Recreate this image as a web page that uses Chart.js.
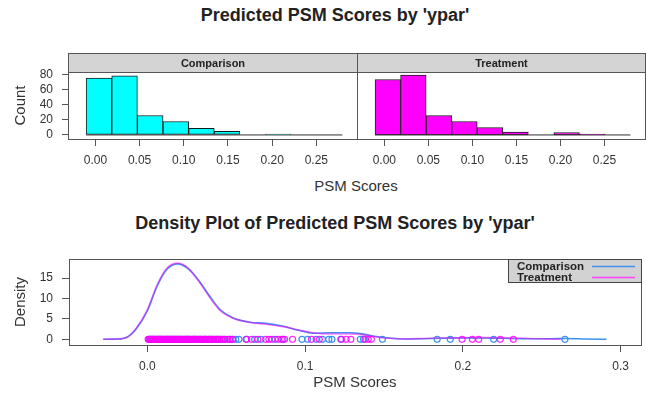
<!DOCTYPE html>
<html>
<head>
<meta charset="utf-8">
<script src="https://cdn.jsdelivr.net/npm/chart.js@4"></script>
<style>
  body { margin: 0; background: #fff; }
  #wrap { position: relative; width: 646px; height: 402px; overflow: hidden; font-family: "Liberation Sans", Arial, sans-serif; color: #222; }
  #wrap canvas { position: absolute; }
  .txt { position: absolute; white-space: nowrap; text-align: center; }
</style>
</head>
<body>
<div id="wrap">
  <div class="txt" style="left:0;width:670px;top:4px;font:bold 18px/22px 'Liberation Sans',Arial,sans-serif;">Predicted PSM Scores by 'ypar'</div>
  <canvas id="histComparison" width="360" height="130" style="left:0;top:45px"></canvas>
  <canvas id="histTreatment" width="306" height="130" style="left:340px;top:45px"></canvas>
  <div class="txt" style="left:256px;width:200px;top:177px;font:15px/18px 'Liberation Sans',Arial,sans-serif;color:#333">PSM Scores</div>
  <div class="txt" style="left:0;width:670px;top:212px;font:bold 18px/22px 'Liberation Sans',Arial,sans-serif;">Density Plot of Predicted PSM Scores by 'ypar'</div>
  <canvas id="density" width="646" height="162" style="left:0;top:240px"></canvas>
</div>
<script>
const groups = ['Comparison', 'Treatment'];

// histogram bins (centres) and counts per panel
const histCenters = [0.004, 0.033, 0.062, 0.091, 0.120, 0.149, 0.178, 0.207, 0.236, 0.265];
const histRange = [-0.0105, 0.2795];
const comparisonCounts = [76, 79, 26, 18, 9, 5, 0, 1, 0, 0];
const treatmentCounts = [74, 80, 26, 18, 10, 4, 0, 3, 1, 0];
const histTicks = [0, 0.05, 0.10, 0.15, 0.20, 0.25];
const countTicks = [0, 20, 40, 60, 80];

// density curves
const comparisonX = [-0.028, -0.02, -0.013, -0.007, 0.0, 0.006, 0.012, 0.019, 0.026, 0.033, 0.040, 0.046, 0.054, 0.065, 0.075, 0.086, 0.096, 0.105, 0.117, 0.128, 0.135, 0.143, 0.153, 0.164, 0.175, 0.185, 0.195, 0.205, 0.215, 0.225, 0.240, 0.255, 0.265, 0.278, 0.291];
const comparisonY = [0, 0.05, 0.5, 2.6, 7.0, 12.9, 17.0, 18.5, 17.3, 14.2, 10.3, 7.3, 5.3, 4.2, 3.9, 3.2, 2.2, 1.5, 1.6, 1.6, 1.4, 0.8, 0.3, 0.08, 0.15, 0.25, 0.3, 0.35, 0.3, 0.25, 0.15, 0.15, 0.2, 0.08, 0];
const treatmentX = [-0.028, -0.02, -0.013, -0.007, 0.0, 0.006, 0.012, 0.019, 0.026, 0.033, 0.040, 0.046, 0.054, 0.065, 0.075, 0.086, 0.096, 0.105, 0.117, 0.128, 0.135, 0.143, 0.153, 0.164, 0.175, 0.185, 0.195, 0.205, 0.215, 0.225, 0.235, 0.248, 0.262];
const treatmentY = [0, 0.05, 0.5, 2.8, 7.3, 13.2, 17.3, 18.7, 17.4, 14.0, 10.0, 7.1, 5.2, 4.1, 3.7, 3.1, 2.3, 1.6, 1.3, 1.3, 1.2, 0.7, 0.25, 0.1, 0.2, 0.3, 0.35, 0.45, 0.4, 0.35, 0.3, 0.12, 0];

// individual scores shown along y = 0
const comparisonScores = [0.001, 0.002, 0.003, 0.004, 0.006, 0.007, 0.008, 0.009, 0.011, 0.012, 0.013, 0.014, 0.015, 0.016, 0.018, 0.019, 0.020, 0.021, 0.022, 0.024, 0.025, 0.026, 0.027, 0.029, 0.030, 0.031, 0.033, 0.034, 0.036, 0.037, 0.039, 0.040, 0.042, 0.044, 0.045, 0.047, 0.049, 0.052, 0.054, 0.056, 0.058, 0.063, 0.068, 0.072, 0.081, 0.086, 0.098, 0.1015, 0.107, 0.111, 0.115, 0.117, 0.1226, 0.135, 0.137, 0.149, 0.1837, 0.192, 0.2195, 0.2647];
const treatmentScores = [0.0005, 0.001, 0.0018, 0.0025, 0.003, 0.0038, 0.0045, 0.005, 0.0058, 0.0064, 0.007, 0.0077, 0.0083, 0.009, 0.0096, 0.0102, 0.011, 0.0117, 0.0124, 0.013, 0.0137, 0.0143, 0.015, 0.0158, 0.0165, 0.0171, 0.0178, 0.0185, 0.0192, 0.020, 0.0207, 0.0213, 0.022, 0.0228, 0.0235, 0.0242, 0.025, 0.0256, 0.0263, 0.027, 0.0278, 0.0286, 0.0293, 0.030, 0.0308, 0.0316, 0.0323, 0.0331, 0.0339, 0.0347, 0.0355, 0.0362, 0.037, 0.0379, 0.0388, 0.0396, 0.0405, 0.0414, 0.0424, 0.0433, 0.0443, 0.0455, 0.0468, 0.048, 0.0494, 0.051, 0.0525, 0.054, 0.0626, 0.066, 0.070, 0.075, 0.077, 0.079, 0.083, 0.085, 0.087, 0.092, 0.104, 0.109, 0.123, 0.126, 0.129, 0.138, 0.140, 0.142, 0.1995, 0.206, 0.210, 0.2237, 0.232];
const densityTicks = [0, 0.1, 0.2, 0.3];
const densityYTicks = [0, 5, 10, 15];

const FONT = "'Liberation Sans', Arial, sans-serif";
Chart.defaults.font.family = FONT;
Chart.defaults.color = '#333';

// box around the panel + optional strip header / key
const panelPlugin = {
  id: 'panel',
  afterDraw(chart, args, opts) {
    const { ctx, chartArea: a } = chart;
    const l = Math.round(a.left) + 0.5, t = Math.round(a.top) + 0.5;
    const w = Math.round(a.right) - Math.round(a.left), h = Math.round(a.bottom) - Math.round(a.top);
    ctx.save();
    ctx.strokeStyle = '#555';
    ctx.lineWidth = 1;
    if (opts.strip) {
      ctx.fillStyle = '#d4d4d4';
      ctx.fillRect(l, t - 19, w, 19);
      ctx.strokeRect(l, t - 19, w, 19);
      ctx.fillStyle = '#222';
      ctx.font = 'bold 11px ' + FONT;
      ctx.textAlign = 'center';
      ctx.textBaseline = 'middle';
      ctx.fillText(opts.strip, l + w / 2, t - 9);
    }
    ctx.strokeRect(l, t, w, h);
    if (opts.legend) {
      const lx = 508.5, rx = Math.round(a.right) + 0.5;
      ctx.fillStyle = '#d2d2d2';
      ctx.fillRect(lx, t, rx - lx, 23);
      ctx.strokeStyle = '#444';
      ctx.strokeRect(lx, t, rx - lx, 23);
      ctx.font = 'bold 11.5px ' + FONT;
      ctx.textAlign = 'left';
      ctx.textBaseline = 'middle';
      opts.legend.forEach((item, i) => {
        const y = t + 7 + i * 11;
        ctx.fillStyle = '#222';
        ctx.fillText(item.text, 517, y);
        ctx.strokeStyle = item.color;
        ctx.lineWidth = 1.5;
        ctx.beginPath();
        ctx.moveTo(592, y);
        ctx.lineTo(635, y);
        ctx.stroke();
      });
    }
    ctx.restore();
  }
};

function histChart(id, name, counts, color, showY) {
  return new Chart(document.getElementById(id), {
    type: 'bar',
    data: {
      datasets: [
        {
          type: 'line',
          data: [{ x: histRange[0], y: 0 }, { x: histRange[1], y: 0 }],
          borderColor: '#333',
          borderWidth: 1,
          pointRadius: 0,
          order: 0
        },
        {
          label: name,
          data: histCenters.map((x, i) => ({ x: x, y: counts[i] })),
          backgroundColor: color,
          borderColor: '#1a1a1a',
          borderWidth: 1,
          borderSkipped: false,
          barPercentage: 1,
          categoryPercentage: 1,
          order: 1
        }
      ]
    },
    options: {
      responsive: false,
      animation: false,
      devicePixelRatio: 1,
      layout: { padding: { top: 27, right: showY ? 3 : 1, left: showY ? 0 : 17, bottom: 0 } },
      plugins: {
        legend: { display: false },
        tooltip: { enabled: false },
        panel: { strip: name }
      },
      scales: {
        x: {
          type: 'linear',
          min: -0.031,
          max: 0.296,
          offset: false,
          grid: { offset: false, drawOnChartArea: false, color: '#555', tickLength: 7 },
          border: { display: false },
          afterBuildTicks: s => { s.ticks = histTicks.map(v => ({ value: v })); },
          afterFit: s => { s.height = 36; },
          ticks: { padding: 7, autoSkip: false, maxRotation: 0, font: { size: 12 }, callback: v => v.toFixed(2) }
        },
        y: {
          display: showY,
          min: -5.4,
          max: 84,
          grid: { drawOnChartArea: false, color: '#555', tickLength: 6 },
          border: { display: false },
          afterBuildTicks: s => { s.ticks = countTicks.map(v => ({ value: v })); },
          afterFit: s => { s.width = showY ? 68 : 0; },
          ticks: { padding: 9, autoSkip: false, font: { size: 12 } },
          title: { display: true, text: 'Count', font: { size: 15 }, padding: { top: 12, bottom: 0 } }
        }
      }
    },
    plugins: [panelPlugin]
  });
}

histChart('histComparison', groups[0], comparisonCounts, '#00ffff', true);
histChart('histTreatment', groups[1], treatmentCounts, '#ff00ff', false);

const blue = '#3d92f0';
const magenta = 'rgba(255,0,255,0.5)';

new Chart(document.getElementById('density'), {
  type: 'line',
  data: {
    datasets: [
      {
        label: groups[1],
        data: treatmentX.map((x, i) => ({ x: x, y: treatmentY[i] })),
        borderColor: magenta,
        borderWidth: 1.6,
        pointRadius: 0,
        cubicInterpolationMode: 'monotone',
        order: 1
      },
      {
        label: groups[1] + ' scores',
        data: treatmentScores.map(x => ({ x: x, y: 0 })),
        showLine: false,
        pointRadius: 3,
        pointBorderWidth: 1.2,
        pointBorderColor: 'rgba(255,0,255,0.85)',
        pointBackgroundColor: 'transparent',
        order: 2
      },
      {
        label: groups[0],
        data: comparisonX.map((x, i) => ({ x: x, y: comparisonY[i] })),
        borderColor: blue,
        borderWidth: 1.6,
        pointRadius: 0,
        cubicInterpolationMode: 'monotone',
        order: 3
      },
      {
        label: groups[0] + ' scores',
        data: comparisonScores.map(x => ({ x: x, y: 0 })),
        showLine: false,
        pointRadius: 3,
        pointBorderWidth: 1.2,
        pointBorderColor: blue,
        pointBackgroundColor: 'transparent',
        order: 4
      }
    ]
  },
  options: {
    responsive: false,
    animation: false,
    devicePixelRatio: 1,
    layout: { padding: { top: 19, right: 3, left: 0, bottom: 0 } },
    plugins: {
      legend: { display: false },
      tooltip: { enabled: false },
      panel: { legend: [{ text: groups[0], color: blue }, { text: groups[1], color: '#ff40ff' }] }
    },
    scales: {
      x: {
        type: 'linear',
        min: -0.0497,
        max: 0.3128,
        grid: { drawOnChartArea: false, color: '#555', tickLength: 7 },
        border: { display: false },
        afterBuildTicks: s => { s.ticks = densityTicks.map(v => ({ value: v })); },
        afterFit: s => { s.height = 57; },
        ticks: { padding: 7, autoSkip: false, maxRotation: 0, font: { size: 12 }, callback: v => v.toFixed(1) },
        title: { display: true, text: 'PSM Scores', font: { size: 15 }, padding: { top: 0, bottom: 10 } }
      },
      y: {
        min: -1.4,
        max: 19.7,
        grid: { drawOnChartArea: false, color: '#555', tickLength: 7 },
        border: { display: false },
        afterBuildTicks: s => { s.ticks = densityYTicks.map(v => ({ value: v })); },
        afterFit: s => { s.width = 69; },
        ticks: { padding: 9, autoSkip: false, font: { size: 12 } },
        title: { display: true, text: 'Density', font: { size: 15 }, padding: { top: 12, bottom: 0 } }
      }
    }
  },
  plugins: [panelPlugin]
});
</script>
</body>
</html>
